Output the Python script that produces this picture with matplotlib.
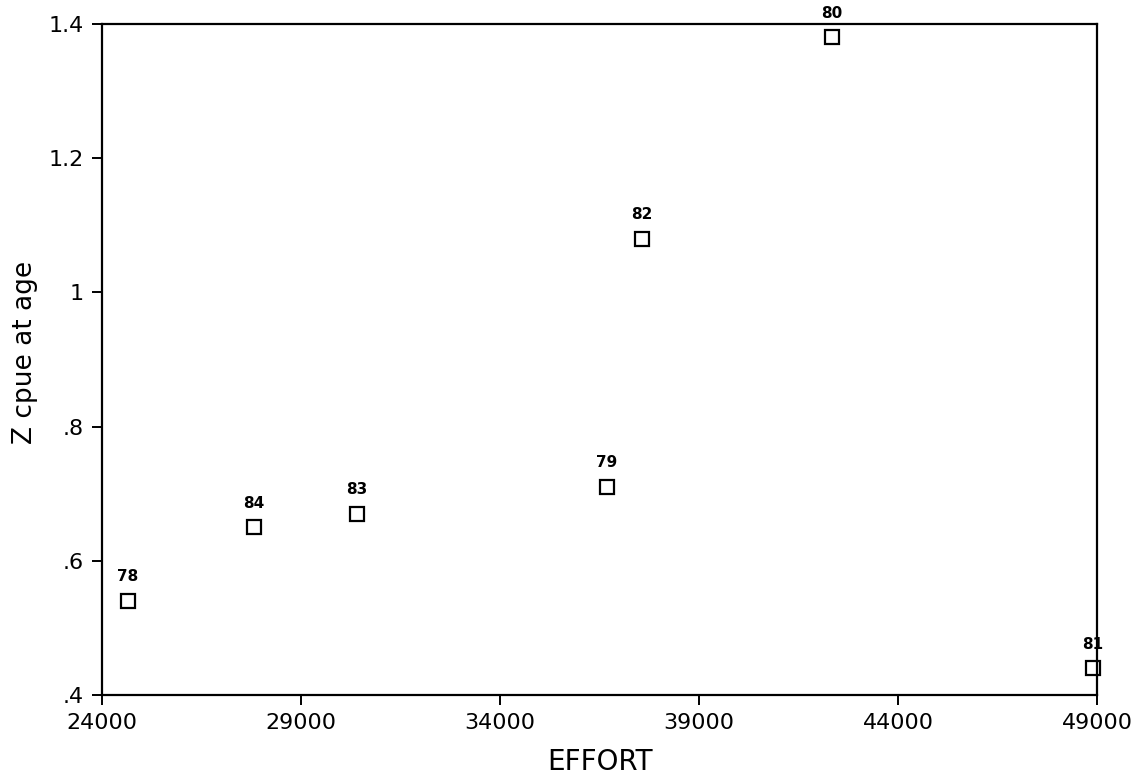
import matplotlib
matplotlib.use("Agg")
import matplotlib.pyplot as plt

# effort vs. Z estimated from cpue, labelled by year
years = ["78", "84", "83", "79", "82", "80", "81"]
effort = [24650, 27820, 30400, 36690, 37570, 42340, 48900]
z_cpue = [0.54, 0.65, 0.67, 0.71, 1.08, 1.38, 0.44]

plt.rcParams["font.family"] = ["DejaVu Sans"]

fig = plt.figure(figsize=(11.36, 7.81), dpi=100)
ax = fig.add_axes([0.0898, 0.1101, 0.8759, 0.8592])

ax.plot(effort, z_cpue, linestyle="none", marker="s", markersize=10,
        markerfacecolor="white", markeredgecolor="black", markeredgewidth=1.6, clip_on=False)
for yr, x, y in zip(years, effort, z_cpue):
    ax.annotate(yr, (x, y), xytext=(0, 12), textcoords="offset points",
                ha="center", va="bottom", fontsize=11, fontweight="bold", annotation_clip=False)

ax.set_xlim(24000, 49000)
ax.set_ylim(0.4, 1.4)
ax.set_xticks(range(24000, 49001, 5000))
ax.set_xticklabels([str(v) for v in range(24000, 49001, 5000)])
ax.set_yticks([0.4, 0.6, 0.8, 1.0, 1.2, 1.4])
ax.set_yticklabels([".4", ".6", ".8", "1", "1.2", "1.4"])

for s in ax.spines.values():
    s.set_linewidth(1.6)
ax.tick_params(direction="out", length=7, width=1.4, labelsize=16, pad=6)

ax.set_xlabel("EFFORT", fontsize=20, labelpad=11)
ax.set_ylabel("Z cpue at age", fontsize=19)
ax.yaxis.set_label_coords(-0.064, 0.51)

fig.savefig("out.png", dpi=100)
